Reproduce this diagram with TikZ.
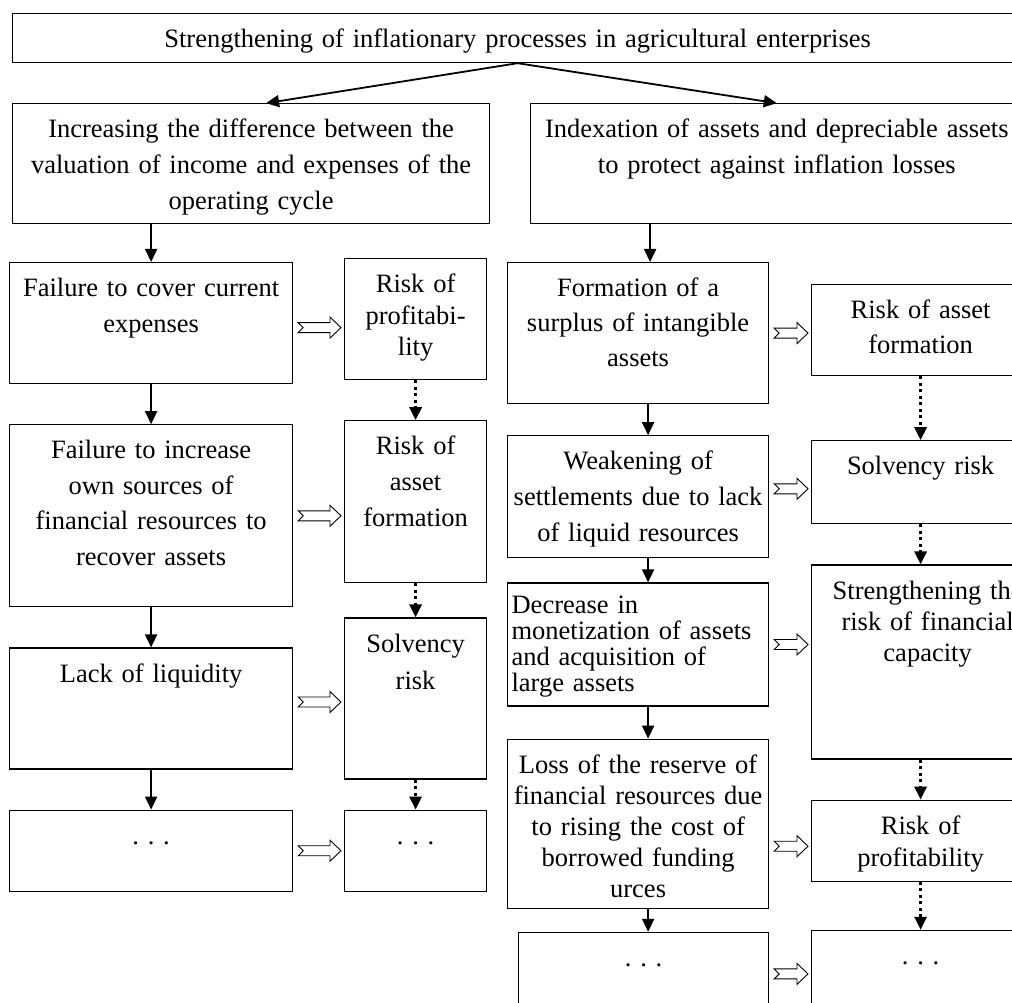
\documentclass[tikz,border=0pt]{standalone}
\usepackage{fontspec}
\setmainfont{Liberation Serif}
\usetikzlibrary{positioning, arrows.meta, calc}
\tikzset{
>={Triangle[length=13pt,width=12pt]}, % solid heads on every arrow
node distance=40pt, % usual gap between two boxes of a column
box/.style={draw, line width=1.2pt, text width=#1, align=center, inner xsep=4pt, inner ysep=0pt, text height=34pt, font=\fontsize{26.5pt}{36pt}\selectfont}, % text sits at the top of the box
lines/.style={font=\fontsize{26.5pt}{#1}\selectfont}, % other line spacing
leads/.style={->, line width=1.8pt}, % cause leads to cause
risk/.style={->, line width=3pt, dash pattern=on 3pt off 3.5pt}, % risk leads to risk
hollow/.style={draw, line width=0.9pt, to path={let \p1=(\tikztostart), \p2=(\tikztotarget) in
  (\x1+5pt,\y1+5pt) -- (\x2-14pt,\y1+5pt) -- (\x2-14pt,\y1+10.5pt) -- (\x2-3pt,\y1) -- (\x2-14pt,\y1-10.5pt) -- (\x2-14pt,\y1-5pt) -- (\x1+5pt,\y1-5pt) -- (\x1+10pt,\y1) -- cycle}}, % open block arrow from cause to risk
}

\begin{document}
\begin{tikzpicture}[x=1pt, y=1pt]
\useasboundingbox (0,0) rectangle (1012,-1003);
\clip (0,0) rectangle (1012,-1003);
\node[box=1002pt, text depth=15pt, anchor=north west] (top) at (12,-13) {Strengthening of inflationary processes in agricultural enterprises};
\node[box=469pt, text depth=86pt, below=40pt of top.south west, anchor=north west] (inc) {Increasing the difference between the\\ valuation of income and expenses of the\\ operating cycle};
\node[box=484pt, text depth=86pt, right=40pt of inc] (ind) {Indexation of assets and depreciable assets\\ to protect against inflation losses};

\node[box=275pt, text depth=87pt, anchor=north west] (f1) at (9,-262) {Failure to cover current\\ expenses};
\node[box=275pt, text depth=148pt, lines=35.5pt, below=of f1] (f2) {Failure to increase\\ own sources of\\ financial resources to\\ recover assets};
\node[box=275pt, text depth=87pt, below=of f2] (lq) {Lack of liquidity};
\node[box=275pt, text depth=47pt, below=of lq] (d1) {.\ .\ .};

\node[box=134pt, text depth=87pt, lines=31.5pt, anchor=north west] (r1) at (344,-258) {Risk of\\ profitabi-\\ lity};
\node[box=134pt, text depth=128pt, below=of r1] (ra) {Risk of\\ asset\\ formation};
\node[box=134pt, text depth=127pt, lines=37pt, below=34pt of ra] (sv) {Solvency\\ risk};
\node[box=134pt, text depth=47pt, below=30pt of sv] (d2) {.\ .\ .};

\node[box=253pt, text depth=107pt, lines=35pt, anchor=north west] (fo) at (507,-262) {Formation of a\\ surplus of intangible\\ assets};
\node[box=253pt, text depth=88pt, below=31pt of fo] (we) {Weakening of\\ settlements due to lack\\ of liquid resources};
\node[box=253pt, text height=30pt, text depth=93pt, align=left, lines=26pt, below=24pt of we] (de) {Decrease in\\ monetization of assets\\ and acquisition of\\ large assets};
\node[box=253pt, text depth=135pt, lines=31pt, below=32pt of de] (lo) {Loss of the reserve of\\ financial resources due\\ to rising the cost of\\ borrowed funding\\ urces};
\node[box=242pt, text depth=49pt, below=23pt of lo.south east, anchor=north east] (d3) {.\ .\ .};

\node[box=210pt, text depth=57pt, lines=35pt, anchor=north west] (ra2) at (811,-284) {Risk of asset\\ formation};
\node[box=210pt, text depth=49pt, below=64pt of ra2] (sv2) {Solvency risk};
\node[box=224pt, text depth=160pt, lines=31pt, below=40pt of sv2.south west, anchor=north west] (st) {Strengthening the\\ risk of financial\\ capacity};
\node[box=210pt, text depth=47pt, lines=32pt, below=40pt of st.south west, anchor=north west] (rp) {Risk of\\ profitability};
\node[box=210pt, text depth=51pt, below=48pt of rp] (d4) {.\ .\ .};

\draw[leads] (top.south) -- ([xshift=15pt]inc.north);
\draw[leads] (top.south) -- (ind.north);
\draw[leads] (inc.south -| f1.north) -- (f1.north);
\draw[leads] (f1) -- (f2);
\draw[leads] (f2) -- (lq);
\draw[leads] (lq) -- (d1);
\draw[leads] ($(ind.south -| fo.north)+(12,0)$) -- ([xshift=12pt]fo.north);
\draw[leads] ([xshift=10pt]fo.south) -- ([xshift=10pt]we.north);
\draw[leads] ([xshift=10pt]we.south) -- ([xshift=10pt]de.north);
\draw[leads] ([xshift=10pt]de.south) -- ([xshift=10pt]lo.north);
\draw[leads] ([xshift=10pt]lo.south) -- ($(lo.south |- d3.north)+(10,0)$);

\draw[risk] (r1) -- (ra);
\draw[risk] (ra) -- (sv);
\draw[risk] (sv) -- (d2);
\draw[risk] (ra2) -- (sv2);
\draw[risk] (sv2.south) -- (sv2.south |- st.north);
\draw[risk] (st.south -| rp.north) -- (rp.north);
\draw[risk] (rp) -- (d4);

\draw[hollow] ([yshift=-4.5pt]f1.east) to (r1.west);
\draw[hollow] (f2.east) to (ra.west);
\draw[hollow] ([yshift=6.5pt]lq.east) to (sv.west);
\draw[hollow] (d1.east) to (d2.west);
\draw[hollow] (fo.east) to (ra2.west);
\draw[hollow] ([yshift=8pt]we.east) to (sv2.west);
\draw[hollow] (de.east) to (st.west);
\draw[hollow] ([yshift=-22.5pt]lo.east) to (rp.west);
\draw[hollow] (d3.east) to (d4.west);
\end{tikzpicture}
\end{document}
